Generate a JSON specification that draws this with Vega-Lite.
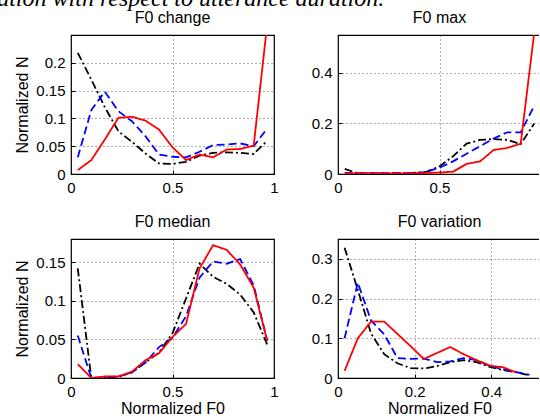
{
  "$schema": "https://vega.github.io/schema/vega-lite/v6.json",
  "padding": {"left": -3, "top": -13, "right": -3, "bottom": 0},
  "title": {"text": "ation with respect to utterance duration.", "font": "Liberation Serif", "fontStyle": "italic", "fontSize": 24, "fontWeight": "normal", "anchor": "start", "frame": "bounds", "dx": -17, "offset": -2, "color": "#000"},
  "datasets": {
    "change": [
      {"x": 0.0333, "y": 0.218, "s": "c"}, {"x": 0.1, "y": 0.17, "s": "c"}, {"x": 0.1667, "y": 0.12, "s": "c"}, {"x": 0.2333, "y": 0.077, "s": "c"}, {"x": 0.3, "y": 0.058, "s": "c"}, {"x": 0.3667, "y": 0.037, "s": "c"}, {"x": 0.4333, "y": 0.019, "s": "c"}, {"x": 0.5, "y": 0.018, "s": "c"}, {"x": 0.5667, "y": 0.022, "s": "c"}, {"x": 0.6333, "y": 0.033, "s": "c"}, {"x": 0.7, "y": 0.038, "s": "c"}, {"x": 0.7667, "y": 0.039, "s": "c"}, {"x": 0.8333, "y": 0.038, "s": "c"}, {"x": 0.9, "y": 0.036, "s": "c"}, {"x": 0.9667, "y": 0.06, "s": "c"},
      {"x": 0.0333, "y": 0.03, "s": "b"}, {"x": 0.1, "y": 0.115, "s": "b"}, {"x": 0.1667, "y": 0.148, "s": "b"}, {"x": 0.2333, "y": 0.113, "s": "b"}, {"x": 0.3, "y": 0.095, "s": "b"}, {"x": 0.3667, "y": 0.068, "s": "b"}, {"x": 0.4333, "y": 0.035, "s": "b"}, {"x": 0.5, "y": 0.031, "s": "b"}, {"x": 0.5667, "y": 0.03, "s": "b"}, {"x": 0.6333, "y": 0.04, "s": "b"}, {"x": 0.7, "y": 0.052, "s": "b"}, {"x": 0.7667, "y": 0.053, "s": "b"}, {"x": 0.8333, "y": 0.055, "s": "b"}, {"x": 0.9, "y": 0.05, "s": "b"}, {"x": 0.9667, "y": 0.082, "s": "b"},
      {"x": 0.0333, "y": 0.007, "s": "a"}, {"x": 0.1, "y": 0.025, "s": "a"}, {"x": 0.1667, "y": 0.062, "s": "a"}, {"x": 0.2333, "y": 0.101, "s": "a"}, {"x": 0.3, "y": 0.103, "s": "a"}, {"x": 0.3667, "y": 0.096, "s": "a"}, {"x": 0.4333, "y": 0.08, "s": "a"}, {"x": 0.5, "y": 0.048, "s": "a"}, {"x": 0.5667, "y": 0.025, "s": "a"}, {"x": 0.6333, "y": 0.035, "s": "a"}, {"x": 0.7, "y": 0.03, "s": "a"}, {"x": 0.7667, "y": 0.044, "s": "a"}, {"x": 0.8333, "y": 0.045, "s": "a"}, {"x": 0.9, "y": 0.051, "s": "a"}, {"x": 0.9667, "y": 0.27, "s": "a"}
    ],
    "max": [
      {"x": 0.0333, "y": 0.02, "s": "c"}, {"x": 0.1, "y": 0.002, "s": "c"}, {"x": 0.1667, "y": 0.002, "s": "c"}, {"x": 0.2333, "y": 0.002, "s": "c"}, {"x": 0.3, "y": 0.002, "s": "c"}, {"x": 0.3667, "y": 0.004, "s": "c"}, {"x": 0.4333, "y": 0.008, "s": "c"}, {"x": 0.5, "y": 0.03, "s": "c"}, {"x": 0.5667, "y": 0.07, "s": "c"}, {"x": 0.6333, "y": 0.12, "s": "c"}, {"x": 0.7, "y": 0.135, "s": "c"}, {"x": 0.7667, "y": 0.138, "s": "c"}, {"x": 0.8333, "y": 0.135, "s": "c"}, {"x": 0.9, "y": 0.118, "s": "c"}, {"x": 0.9667, "y": 0.2, "s": "c"},
      {"x": 0.0333, "y": 0.004, "s": "b"}, {"x": 0.1, "y": 0.003, "s": "b"}, {"x": 0.1667, "y": 0.003, "s": "b"}, {"x": 0.2333, "y": 0.003, "s": "b"}, {"x": 0.3, "y": 0.003, "s": "b"}, {"x": 0.3667, "y": 0.003, "s": "b"}, {"x": 0.4333, "y": 0.008, "s": "b"}, {"x": 0.5, "y": 0.025, "s": "b"}, {"x": 0.5667, "y": 0.05, "s": "b"}, {"x": 0.6333, "y": 0.08, "s": "b"}, {"x": 0.7, "y": 0.11, "s": "b"}, {"x": 0.7667, "y": 0.14, "s": "b"}, {"x": 0.8333, "y": 0.165, "s": "b"}, {"x": 0.9, "y": 0.165, "s": "b"}, {"x": 0.9667, "y": 0.27, "s": "b"},
      {"x": 0.0333, "y": 0.003, "s": "a"}, {"x": 0.1, "y": 0.002, "s": "a"}, {"x": 0.1667, "y": 0.002, "s": "a"}, {"x": 0.2333, "y": 0.002, "s": "a"}, {"x": 0.3, "y": 0.002, "s": "a"}, {"x": 0.3667, "y": 0.002, "s": "a"}, {"x": 0.4333, "y": 0.004, "s": "a"}, {"x": 0.5, "y": 0.006, "s": "a"}, {"x": 0.5667, "y": 0.009, "s": "a"}, {"x": 0.6333, "y": 0.04, "s": "a"}, {"x": 0.7, "y": 0.05, "s": "a"}, {"x": 0.7667, "y": 0.095, "s": "a"}, {"x": 0.8333, "y": 0.103, "s": "a"}, {"x": 0.9, "y": 0.12, "s": "a"}, {"x": 0.9667, "y": 0.56, "s": "a"}
    ],
    "median": [
      {"x": 0.0333, "y": 0.142, "s": "c"}, {"x": 0.1, "y": 0.0, "s": "c"}, {"x": 0.1667, "y": 0.0, "s": "c"}, {"x": 0.2333, "y": 0.001, "s": "c"}, {"x": 0.3, "y": 0.008, "s": "c"}, {"x": 0.3667, "y": 0.02, "s": "c"}, {"x": 0.4333, "y": 0.033, "s": "c"}, {"x": 0.5, "y": 0.058, "s": "c"}, {"x": 0.5667, "y": 0.103, "s": "c"}, {"x": 0.6333, "y": 0.148, "s": "c"}, {"x": 0.7, "y": 0.131, "s": "c"}, {"x": 0.7667, "y": 0.122, "s": "c"}, {"x": 0.8333, "y": 0.108, "s": "c"}, {"x": 0.9, "y": 0.085, "s": "c"}, {"x": 0.9667, "y": 0.043, "s": "c"},
      {"x": 0.0333, "y": 0.055, "s": "b"}, {"x": 0.1, "y": 0.0, "s": "b"}, {"x": 0.1667, "y": 0.001, "s": "b"}, {"x": 0.2333, "y": 0.002, "s": "b"}, {"x": 0.3, "y": 0.007, "s": "b"}, {"x": 0.3667, "y": 0.02, "s": "b"}, {"x": 0.4333, "y": 0.04, "s": "b"}, {"x": 0.5, "y": 0.052, "s": "b"}, {"x": 0.5667, "y": 0.08, "s": "b"}, {"x": 0.6333, "y": 0.13, "s": "b"}, {"x": 0.7, "y": 0.151, "s": "b"}, {"x": 0.7667, "y": 0.148, "s": "b"}, {"x": 0.8333, "y": 0.154, "s": "b"}, {"x": 0.9, "y": 0.12, "s": "b"}, {"x": 0.9667, "y": 0.048, "s": "b"},
      {"x": 0.0333, "y": 0.018, "s": "a"}, {"x": 0.1, "y": 0.0, "s": "a"}, {"x": 0.1667, "y": 0.002, "s": "a"}, {"x": 0.2333, "y": 0.002, "s": "a"}, {"x": 0.3, "y": 0.008, "s": "a"}, {"x": 0.3667, "y": 0.023, "s": "a"}, {"x": 0.4333, "y": 0.032, "s": "a"}, {"x": 0.5, "y": 0.053, "s": "a"}, {"x": 0.5667, "y": 0.07, "s": "a"}, {"x": 0.6333, "y": 0.142, "s": "a"}, {"x": 0.7, "y": 0.172, "s": "a"}, {"x": 0.7667, "y": 0.166, "s": "a"}, {"x": 0.8333, "y": 0.147, "s": "a"}, {"x": 0.9, "y": 0.117, "s": "a"}, {"x": 0.9667, "y": 0.048, "s": "a"}
    ],
    "variation": [
      {"x": 0.0172, "y": 0.328, "s": "c"}, {"x": 0.0517, "y": 0.222, "s": "c"}, {"x": 0.0862, "y": 0.112, "s": "c"}, {"x": 0.1207, "y": 0.06, "s": "c"}, {"x": 0.1552, "y": 0.037, "s": "c"}, {"x": 0.1897, "y": 0.025, "s": "c"}, {"x": 0.2241, "y": 0.024, "s": "c"}, {"x": 0.2586, "y": 0.03, "s": "c"}, {"x": 0.2931, "y": 0.04, "s": "c"}, {"x": 0.3276, "y": 0.045, "s": "c"}, {"x": 0.3621, "y": 0.04, "s": "c"}, {"x": 0.3966, "y": 0.028, "s": "c"}, {"x": 0.431, "y": 0.02, "s": "c"}, {"x": 0.4655, "y": 0.014, "s": "c"}, {"x": 0.5, "y": 0.007, "s": "c"},
      {"x": 0.0172, "y": 0.1, "s": "b"}, {"x": 0.0517, "y": 0.24, "s": "b"}, {"x": 0.0862, "y": 0.145, "s": "b"}, {"x": 0.1207, "y": 0.11, "s": "b"}, {"x": 0.1552, "y": 0.05, "s": "b"}, {"x": 0.1897, "y": 0.048, "s": "b"}, {"x": 0.2241, "y": 0.049, "s": "b"}, {"x": 0.2586, "y": 0.04, "s": "b"}, {"x": 0.2931, "y": 0.042, "s": "b"}, {"x": 0.3276, "y": 0.05, "s": "b"}, {"x": 0.3621, "y": 0.045, "s": "b"}, {"x": 0.3966, "y": 0.03, "s": "b"}, {"x": 0.431, "y": 0.022, "s": "b"}, {"x": 0.4655, "y": 0.015, "s": "b"}, {"x": 0.5, "y": 0.008, "s": "b"},
      {"x": 0.0172, "y": 0.018, "s": "a"}, {"x": 0.0517, "y": 0.1, "s": "a"}, {"x": 0.0862, "y": 0.142, "s": "a"}, {"x": 0.1207, "y": 0.142, "s": "a"}, {"x": 0.1552, "y": 0.111, "s": "a"}, {"x": 0.1897, "y": 0.08, "s": "a"}, {"x": 0.2241, "y": 0.048, "s": "a"}, {"x": 0.2586, "y": 0.063, "s": "a"}, {"x": 0.2931, "y": 0.078, "s": "a"}, {"x": 0.3276, "y": 0.06, "s": "a"}, {"x": 0.3621, "y": 0.045, "s": "a"}, {"x": 0.3966, "y": 0.031, "s": "a"}, {"x": 0.431, "y": 0.027, "s": "a"}, {"x": 0.4655, "y": 0.014, "s": "a"}
    ]
  },
  "columns": 2,
  "bounds": "flush",
  "spacing": {"row": 65, "column": 64},
  "concat": [
    {
      "title": "F0 change",
      "width": 203, "height": 139,
      "data": {"name": "change"},
      "mark": {"type": "line", "clip": true, "strokeWidth": 1.8},
      "encoding": {
        "x": {"field": "x", "type": "quantitative", "scale": {"domain": [0, 1], "nice": false, "zero": false}, "axis": {"values": [0, 0.5, 1], "title": null}},
        "y": {"field": "y", "type": "quantitative", "scale": {"domain": [0, 0.25], "nice": false}, "axis": {"values": [0, 0.05, 0.1, 0.15, 0.2], "title": "Normalized N"}},
        "color": {"field": "s", "type": "nominal", "scale": {"domain": ["a", "b", "c"], "range": ["#ff0000", "#0000ff", "#000000"]}, "legend": null},
        "strokeDash": {"field": "s", "type": "nominal", "scale": {"domain": ["a", "b", "c"], "range": [[1, 0], [8, 4], [8, 3, 2, 3]]}, "legend": null},
        "order": {"field": "x", "type": "quantitative"}
      }
    },
    {
      "title": "F0 max",
      "width": 203, "height": 139,
      "data": {"name": "max"},
      "mark": {"type": "line", "clip": true, "strokeWidth": 1.8},
      "encoding": {
        "x": {"field": "x", "type": "quantitative", "scale": {"domain": [0, 1], "nice": false, "zero": false}, "axis": {"values": [0, 0.5], "title": null}},
        "y": {"field": "y", "type": "quantitative", "scale": {"domain": [0, 0.55], "nice": false}, "axis": {"values": [0, 0.2, 0.4], "title": null}},
        "color": {"field": "s", "type": "nominal", "scale": {"domain": ["a", "b", "c"], "range": ["#ff0000", "#0000ff", "#000000"]}, "legend": null},
        "strokeDash": {"field": "s", "type": "nominal", "scale": {"domain": ["a", "b", "c"], "range": [[1, 0], [8, 4], [8, 3, 2, 3]]}, "legend": null},
        "order": {"field": "x", "type": "quantitative"}
      }
    },
    {
      "title": "F0 median",
      "width": 203, "height": 139,
      "data": {"name": "median"},
      "mark": {"type": "line", "clip": true, "strokeWidth": 1.8},
      "encoding": {
        "x": {"field": "x", "type": "quantitative", "scale": {"domain": [0, 1], "nice": false, "zero": false}, "axis": {"values": [0, 0.5, 1], "title": "Normalized F0"}},
        "y": {"field": "y", "type": "quantitative", "scale": {"domain": [0, 0.18], "nice": false}, "axis": {"values": [0, 0.05, 0.1, 0.15], "title": "Normalized N"}},
        "color": {"field": "s", "type": "nominal", "scale": {"domain": ["a", "b", "c"], "range": ["#ff0000", "#0000ff", "#000000"]}, "legend": null},
        "strokeDash": {"field": "s", "type": "nominal", "scale": {"domain": ["a", "b", "c"], "range": [[1, 0], [8, 4], [8, 3, 2, 3]]}, "legend": null},
        "order": {"field": "x", "type": "quantitative"}
      }
    },
    {
      "title": "F0 variation",
      "width": 203, "height": 139,
      "data": {"name": "variation"},
      "mark": {"type": "line", "clip": true, "strokeWidth": 1.8},
      "encoding": {
        "x": {"field": "x", "type": "quantitative", "scale": {"domain": [0, 0.53], "nice": false, "zero": false}, "axis": {"values": [0, 0.2, 0.4], "title": "Normalized F0"}},
        "y": {"field": "y", "type": "quantitative", "scale": {"domain": [0, 0.35], "nice": false}, "axis": {"values": [0, 0.1, 0.2, 0.3], "title": null}},
        "color": {"field": "s", "type": "nominal", "scale": {"domain": ["a", "b", "c"], "range": ["#ff0000", "#0000ff", "#000000"]}, "legend": null},
        "strokeDash": {"field": "s", "type": "nominal", "scale": {"domain": ["a", "b", "c"], "range": [[1, 0], [8, 4], [8, 3, 2, 3]]}, "legend": null},
        "order": {"field": "x", "type": "quantitative"}
      }
    }
  ],
  "config": {
    "font": "Liberation Sans",
    "background": "#ffffff",
    "view": {"stroke": "#000000", "strokeWidth": 1.2},
    "axis": {
      "domain": false,
      "format": "~g",
      "ticks": true,
      "tickColor": "#000000",
      "tickSize": -4,
      "labelColor": "#000000",
      "labelFontSize": 15,
      "labelFont": "Liberation Sans",
      "labelFlush": false,
      "labelOverlap": false,
      "labelPadding": 10,
      "titleFont": "Liberation Sans",
      "titleFontSize": 16,
      "titleFontWeight": "normal",
      "titleColor": "#000000",
      "grid": true,
      "gridColor": "#000000",
      "gridDash": [1, 3],
      "gridWidth": 0.8,
      "gridOpacity": 0.8
    },
    "axisX": {"titlePadding": 1},
    "axisY": {"titlePadding": 5},
    "title": {"fontSize": 16, "fontWeight": "normal", "color": "#000000", "font": "Liberation Sans", "offset": 9}
  }
}
